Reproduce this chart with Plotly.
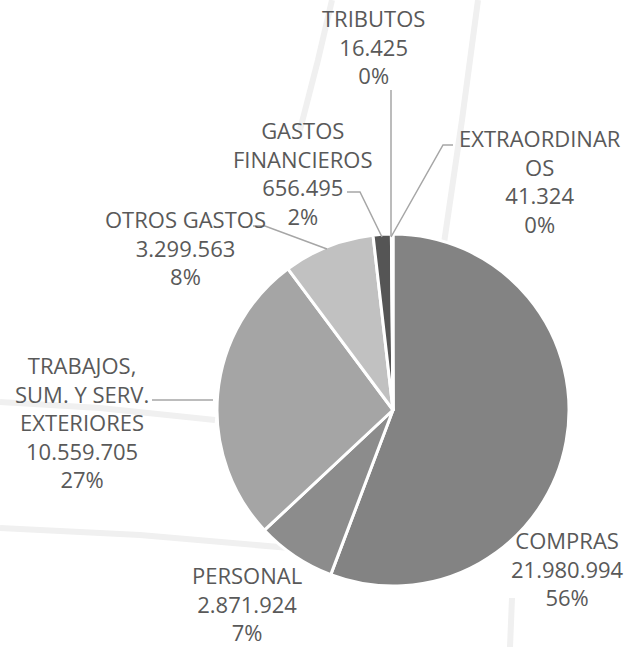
import plotly.graph_objects as go

categorias = ["COMPRAS", "PERSONAL", "TRABAJOS, SUM. Y SERV. EXTERIORES", "OTROS GASTOS",
              "GASTOS FINANCIEROS", "TRIBUTOS", "EXTRAORDINARIOS"]
etiquetas = ["COMPRAS", "PERSONAL", "TRABAJOS,<br>SUM. Y SERV.<br>EXTERIORES", "OTROS GASTOS",
             "GASTOS<br>FINANCIEROS", "TRIBUTOS", "EXTRAORDINAR<br>OS"]
importes = [21980994, 2871924, 10559705, 3299563, 656495, 16425, 41324]
colores = ["#838383", "#8c8c8c", "#a5a5a5", "#c1c1c1", "#555555", "#6e6e6e", "#7f7f7f"]

W, H = 634, 647

def px(x, y):
    return x / W, 1 - y / H

# centro y radio de la tarta en pixeles
cx, cy, r = 393, 410, 176

# posicion de cada etiqueta (centro, en pixeles)
pos_etiquetas = [(567, 568), (247, 603), (82, 422), (185, 247), (303, 173), (373, 46), (540, 181)]

# lineas guia
guias = [
    [(391, 90), (391, 236)],
    [(453, 145), (443, 145), (391, 237)],
    [(347, 192), (360, 192), (382, 237)],
    [(253, 226), (265, 226), (327, 249)],
    [(152, 400), (213, 400)],
]

# trazos del fondo
fondo = [
    [(478, 0), (462, 120), (443, 250)],
    [(332, 0), (318, 60), (300, 130)],
    [(0, 402), (100, 408), (215, 420)],
    [(0, 528), (140, 535), (290, 548)],
    [(512, 598), (510, 647)],
]

total = sum(importes)

def fmt(v):
    return "{:,}".format(v).replace(",", ".")

fig = go.Figure()
fig.add_trace(go.Pie(
    labels=categorias, values=importes, sort=False, direction="clockwise", rotation=0,
    marker=dict(colors=colores, line=dict(color="white", width=3)),
    textinfo="none", showlegend=False,
    domain=dict(x=[(cx - r) / W, (cx + r) / W], y=[1 - (cy + r) / H, 1 - (cy - r) / H]),
))

shapes = []
for pts in fondo:
    p = [px(x, y) for x, y in pts]
    path = "M " + " L ".join("{},{}".format(a, b) for a, b in p)
    shapes.append(dict(type="path", path=path, xref="paper", yref="paper",
                       line=dict(color="#f0f0f0", width=6), layer="below"))
for pts in guias:
    p = [px(x, y) for x, y in pts]
    path = "M " + " L ".join("{},{}".format(a, b) for a, b in p)
    shapes.append(dict(type="path", path=path, xref="paper", yref="paper",
                       line=dict(color="#a6a6a6", width=1.5)))

annotations = []
for lab, v, (x, y) in zip(etiquetas, importes, pos_etiquetas):
    ax, ay = px(x, y)
    txt = "{}<br>{}<br>{}%".format(lab, fmt(v), round(v * 100 / total))
    annotations.append(dict(text=txt, x=ax, y=ay, xref="paper", yref="paper",
                            xanchor="center", yanchor="middle", showarrow=False,
                            font=dict(family="Open Sans", size=22, color="#595959")))

fig.update_layout(width=W, height=H, margin=dict(l=0, r=0, t=0, b=0),
                  paper_bgcolor="white", plot_bgcolor="white",
                  shapes=shapes, annotations=annotations)

fig.write_html("out.html", config={"displayModeBar": False},
               post_script="document.body.style.margin='0px';")
